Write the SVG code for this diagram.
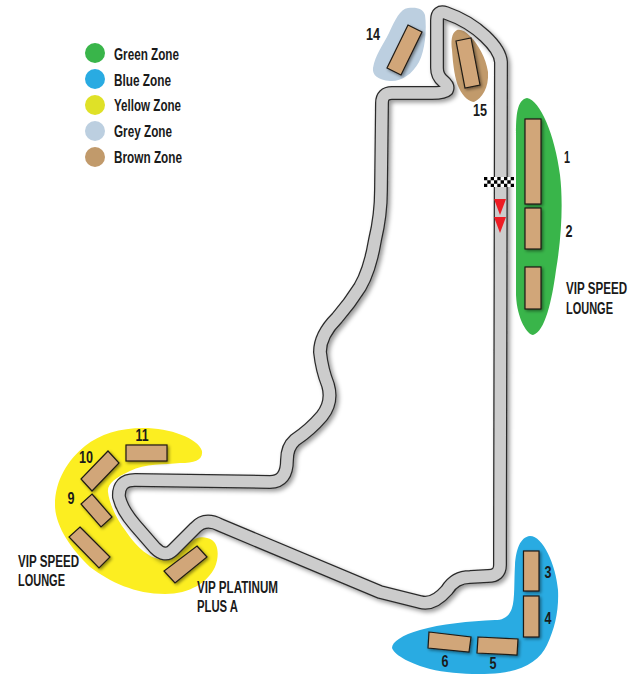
<svg xmlns="http://www.w3.org/2000/svg" xmlns:xlink="http://www.w3.org/1999/xlink" width="636" height="700" viewBox="0 0 636 700">
<style>
text{font-family:"Liberation Sans Narrow","Liberation Sans",Arial,sans-serif;font-weight:bold;fill:#1a1a1a;font-size:16px}
.n{text-anchor:middle;font-size:16px}
.seat{fill:#d1a679;stroke:#1f1a14;stroke-width:1.2;filter:url(#sh)}
.tdark{fill:none;stroke:#2b2b2b;stroke-width:14;stroke-linejoin:round}
.tgrey{fill:none;stroke:#cccccc;stroke-width:11.500;stroke-linejoin:round}
</style>
<defs>
<filter id="sh" x="-30%" y="-30%" width="170%" height="170%"><feDropShadow dx="1.5" dy="1.5" stdDeviation="1.5" flood-color="#000" flood-opacity=".45"/></filter>
<filter id="tsh" x="-10%" y="-10%" width="125%" height="125%"><feDropShadow dx="2.5" dy="2.5" stdDeviation="2" flood-color="#000" flood-opacity=".4"/></filter>
<path id="trackline" d="M500 545 L501 62 C500 48 478 24 446 13 Q437 10 437 20 L437 68 Q437 76 443 81 Q449 86 447 90 Q444 93 432 93 L392 93 Q382 93 382 103 L381 190 Q381 215 375 240 Q370 270 360 287 Q350 303 337 318 Q320 335 320 352 Q322 370 328 385 Q333 402 322 416 Q310 430 295 440 Q287 447 287 460 Q287 482 270 482 L135 480 Q118 480 119 497 Q122 510 135 525 L155 548 Q165 558 173 550 L195 528 Q205 517 220 525 L380 592 L420 602 Q433 606 447 590 Q455 577 470 577 L488 576 Q500 576 500 565 Z"/>
</defs>
<g id="zones">
<path id="zone-green" fill="#39b54a" d="M527 98 C517 100 516 115 516 135 L516 295 C517 320 528 335 533 335 C545 332 552 300 556 270 C562 235 563 200 560 175 C555 135 540 100 527 98 Z"/>
<path id="zone-grey" fill="#bccfe0" d="M408 8 C418 7 423 9 425 15 C427 30 425 50 419 62 C412 75 400 82 390 81 C378 80 372 75 373 68 C375 55 383 45 389 33 C395 20 400 9 408 8 Z"/>
<path id="zone-brown" fill="#c19a6b" d="M457 30 C451 33 451 42 452 50 C453 65 455 80 459 88 C463 97 470 102 474 102 C482 98 489 88 488 72 C486 58 478 44 470 36 C465 31 461 29 457 30 Z"/>
<path id="zone-yellow" fill="#fcee21" d="M143 428 C170 428 198 438 202 451 C203 460 195 463 180 463 C165 465 145 463 130 471 C115 478 107 484 108 492 C109 503 117 520 125 530 C135 545 148 558 160 559 C172 560 183 550 190 542 C197 536 205 536 212 540 C219 545 219 557 215 567 C208 582 190 594 165 594 C135 594 110 582 90 567 C70 548 55 525 55 505 C55 480 68 460 85 446 C100 434 120 428 143 428 Z"/>
<path id="zone-blue" fill="#29abe2" d="M530 536 C520 537 516 550 515 565 C514 580 515 600 512 608 C509 617 503 620 495 620 C470 621 440 624 420 630 C402 635 392 642 392 648 C395 656 412 664 430 669 C450 674 480 675 500 673 C525 670 540 660 547 645 C555 628 559 610 558 590 C556 565 543 536 530 536 Z"/>
</g>
<g id="connectors">
<g filter="url(#tsh)">
<use xlink:href="#trackline" href="#trackline" class="tdark"/>
<use xlink:href="#trackline" href="#trackline" class="tgrey"/>
</g>
</g>
<g id="start-line">
<rect x="484" y="177" width="30" height="10" fill="#fff"/>
<path fill="#000" d="M484 177h3.3v3.3h-3.3zM490.700 177h3.300v3.300h-3.300zM497.300 177h3.300v3.300h-3.300zM504 177h3.300v3.300h-3.300zM510.700 177h3.300v3.300h-3.300zM487.300 180.300h3.400v3.400h-3.400zM494 180.300h3.300v3.400h-3.300zM500.600 180.300h3.400v3.400h-3.400zM507.300 180.300h3.400v3.400h-3.400zM484 183.700h3.300v3.300h-3.300zM490.700 183.700h3.300v3.300h-3.300zM497.300 183.700h3.300v3.300h-3.300zM504 183.700h3.300v3.300h-3.300zM510.700 183.700h3.300v3.300h-3.300z"/>
<polygon fill="#ed1c24" points="494,199 506,199 500,215"/>
<polygon fill="#ed1c24" points="494,217 506,217 500,233"/>
</g>
<g id="seat-1"><rect class="seat" x="525" y="119" width="16" height="85"/><text class="n" x="567" y="163" textLength="6" lengthAdjust="spacingAndGlyphs">1</text></g>
<g id="seat-2"><rect class="seat" x="525" y="208" width="16" height="41"/><text class="n" x="569" y="237" textLength="7" lengthAdjust="spacingAndGlyphs">2</text></g>
<g id="seat-vip-speed-right"><rect class="seat" x="525" y="267" width="16" height="42"/><text x="566" y="294" textLength="61" lengthAdjust="spacingAndGlyphs">VIP SPEED</text><text x="566" y="314" textLength="47" lengthAdjust="spacingAndGlyphs">LOUNGE</text></g>
<g id="seat-3"><rect class="seat" x="523.500" y="551" width="15.500" height="40"/><text class="n" x="548" y="578" textLength="7" lengthAdjust="spacingAndGlyphs">3</text></g>
<g id="seat-4"><rect class="seat" x="523.500" y="596" width="15.500" height="41"/><text class="n" x="548" y="624" textLength="7" lengthAdjust="spacingAndGlyphs">4</text></g>
<g id="seat-5"><polygon class="seat" points="478,637 518,639 517,655 477,653"/><text class="n" x="493" y="669" textLength="7" lengthAdjust="spacingAndGlyphs">5</text></g>
<g id="seat-6"><polygon class="seat" points="429,632 471,637 469,652 428,648"/><text class="n" x="445" y="667" textLength="7" lengthAdjust="spacingAndGlyphs">6</text></g>
<g id="seat-14"><polygon class="seat" points="408,25 422,32 401,75 387,68"/><text class="n" x="373" y="40" textLength="14" lengthAdjust="spacingAndGlyphs">14</text></g>
<g id="seat-15"><polygon class="seat" points="456,41 471,38 480,85 465,88"/><text class="n" x="480" y="116" textLength="14" lengthAdjust="spacingAndGlyphs">15</text></g>
<g id="seat-11"><rect class="seat" x="126" y="445" width="41" height="16"/><text class="n" x="142" y="441" textLength="13" lengthAdjust="spacingAndGlyphs">11</text></g>
<g id="seat-10"><polygon class="seat" points="108,451 119,463 92,491 81,479"/><text class="n" x="86" y="463" textLength="14" lengthAdjust="spacingAndGlyphs">10</text></g>
<g id="seat-9"><polygon class="seat" points="92,494 112,517 101,527 81,504"/><text class="n" x="71" y="504" textLength="7" lengthAdjust="spacingAndGlyphs">9</text></g>
<g id="seat-vip-speed-left"><polygon class="seat" points="80,527 110,557 99,568 69,537"/><text x="18" y="567" textLength="61" lengthAdjust="spacingAndGlyphs">VIP SPEED</text><text x="18" y="586" textLength="47" lengthAdjust="spacingAndGlyphs">LOUNGE</text></g>
<g id="seat-vip-platinum"><polygon class="seat" points="197,546 207,557 175,583 164,571"/><text x="197" y="593" textLength="81" lengthAdjust="spacingAndGlyphs">VIP PLATINUM</text><text x="197" y="612" textLength="41" lengthAdjust="spacingAndGlyphs">PLUS A</text></g>
<g id="legend">
<circle cx="95" cy="53" r="10" fill="#39b54a"/><text x="114" y="60" textLength="65" lengthAdjust="spacingAndGlyphs">Green Zone</text>
<circle cx="95" cy="79" r="10" fill="#29abe2"/><text x="114" y="86" textLength="57" lengthAdjust="spacingAndGlyphs">Blue Zone</text>
<circle cx="95" cy="105" r="10" fill="#dfe127"/><text x="114" y="111" textLength="67" lengthAdjust="spacingAndGlyphs">Yellow Zone</text>
<circle cx="95" cy="131" r="10" fill="#bccfe0"/><text x="114" y="137" textLength="58" lengthAdjust="spacingAndGlyphs">Grey Zone</text>
<circle cx="95" cy="157" r="10" fill="#c19a6b"/><text x="114" y="163" textLength="68" lengthAdjust="spacingAndGlyphs">Brown Zone</text>
</g>
</svg>
